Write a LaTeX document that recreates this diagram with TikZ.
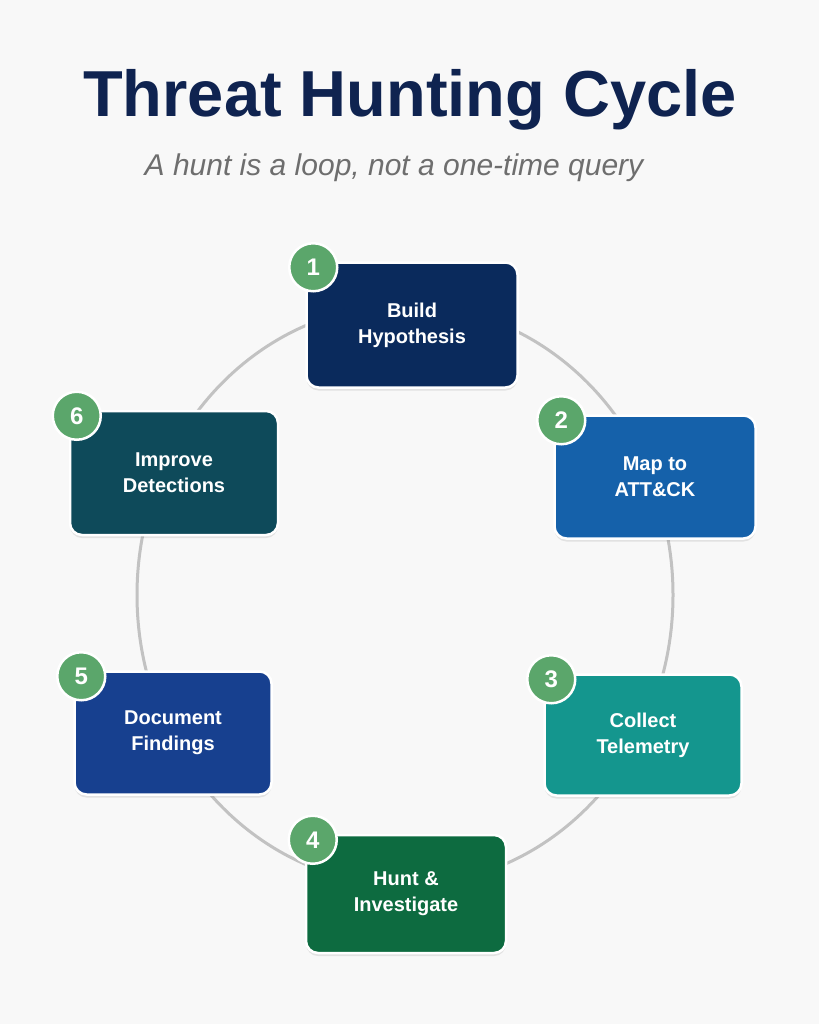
\documentclass[tikz,border=0pt]{standalone}
\usepackage{fontspec}
\setmainfont{Liberation Sans}
\usetikzlibrary{shadows,positioning}
\definecolor{bgcol}{HTML}{F8F8F8}
\definecolor{titlecol}{HTML}{0F2350}
\definecolor{subcol}{HTML}{6E6E6E}
\definecolor{ringcol}{HTML}{C2C2C2}
\definecolor{badgecol}{HTML}{5BA66B}
\definecolor{hypcol}{HTML}{0A2A5C}
\definecolor{mapcol}{HTML}{1561AA}
\definecolor{telcol}{HTML}{14968E}
\definecolor{huntcol}{HTML}{0D6B40}
\definecolor{doccol}{HTML}{17408F}
\definecolor{detcol}{HTML}{0E4A5A}

\begin{document}
\begin{tikzpicture}[x=1pt, y=-1pt,
    stepbox/.style={rounded corners=12pt, draw=white, line width=2.5pt, text=white,
        font=\bfseries\fontsize{20}{26}\selectfont, align=center,
        drop shadow={opacity=0.18, shadow xshift=0pt, shadow yshift=-3pt}},
    badge/.style={circle, fill=badgecol, draw=white, line width=2.5pt, minimum size=48pt,
        inner sep=0pt, text=white, font=\bfseries\fontsize{24}{24}\selectfont},
    ring/.style={draw=ringcol, line width=3pt}]
    \fill[bgcol] (0,0) rectangle (819,1024);
    \useasboundingbox (0,0) rectangle (819,1024);

    \node[font=\bfseries\fontsize{65}{70}\selectfont, text=titlecol] (title) at (410,100) {Threat Hunting Cycle};
    \node[font=\itshape\fontsize{30}{34}\selectfont, text=subcol] (subtitle) at (394,168) {A hunt is a loop, not a one-time query};

    \draw[ring] (405,595) ellipse [x radius=268, y radius=290];

    \foreach \n/\x/\y/\w/\h/\c/\t in {
        1/412/325/211/125/hypcol/{Build\\Hypothesis},
        2/655/477/201/123/mapcol/{Map to\\ATT\&CK},
        3/643/735/197/121/telcol/{Collect\\Telemetry},
        4/406/894/200/118/huntcol/{Hunt \&\\Investigate},
        5/173/733/197/123/doccol/{Document\\Findings},
        6/174/473/208/124/detcol/{Improve\\Detections}} {
        \node[stepbox, fill=\c, minimum width=\w, minimum height=\h] (b\n) at (\x,\y) {\t};
        \node[badge] (n\n) at ([shift={(8,6)}]b\n.north west) {\n};
    }
\end{tikzpicture}
\end{document}
